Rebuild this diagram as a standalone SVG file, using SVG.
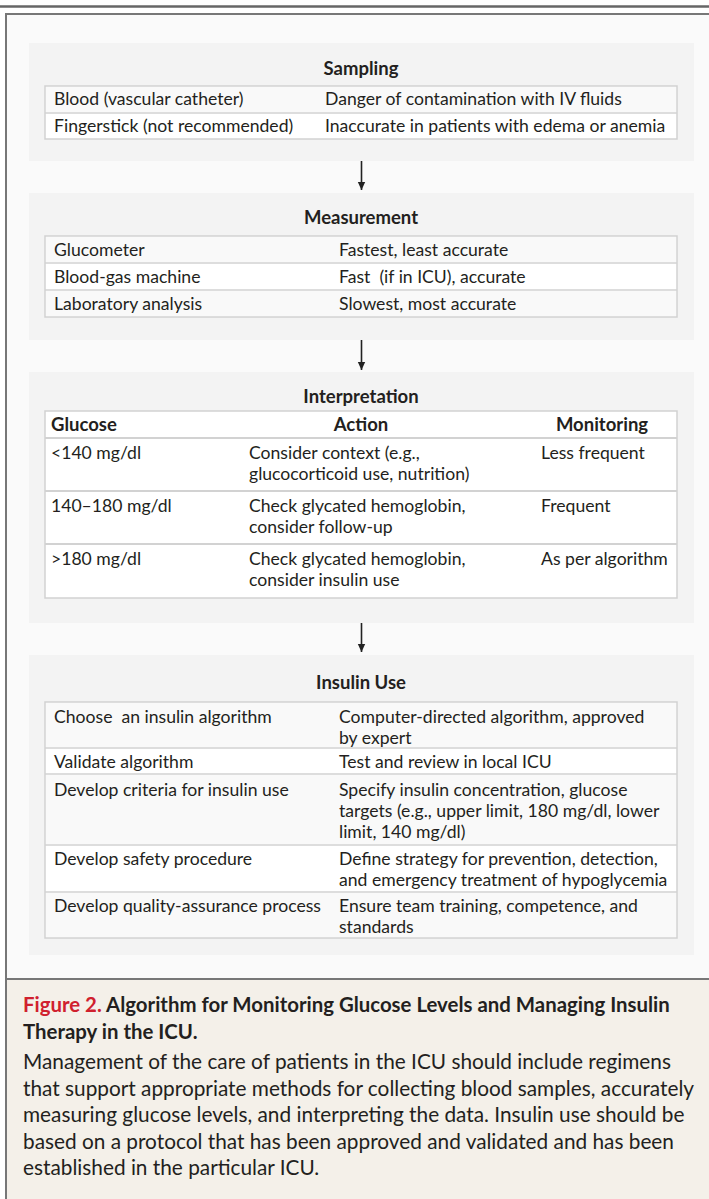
<svg xmlns="http://www.w3.org/2000/svg" width="709" height="1199" viewBox="0 0 709 1199">
<defs>
<style>
text{font-family:Lato,"Liberation Sans",sans-serif;fill:#231f20}
.t{font-size:17.6px}
.h{font-size:18.5px;font-weight:bold}
.b{font-weight:bold}
.c{text-anchor:middle}
.panel{fill:#f3f3f3}
.tb{fill:#ffffff;stroke:#d2d2d2;stroke-width:1.5}
.alt{fill:#f9f9f9}
.cap{font-size:20.8px}
.capt{font-size:20.4px;font-weight:bold}
.conn{stroke:#222;stroke-width:1.6;fill:none}
</style>
<marker id="ah" viewBox="0 0 8 14" refX="8" refY="7" markerWidth="8" markerHeight="14" markerUnits="userSpaceOnUse" orient="auto">
<path d="M0,3.3 L8,7 L0,10.7 Z" fill="#222"/>
</marker>
</defs>
<rect x="0" y="0" width="709" height="1199" fill="#ffffff"/>
<line x1="0" y1="6.5" x2="709" y2="6.5" stroke="#666" stroke-width="2.5"/>
<rect x="6" y="14" width="710" height="965" fill="#fafafa" stroke="#777" stroke-width="2"/>
<rect x="7" y="980" width="702" height="219" fill="#f4f0e9"/>
<line x1="6" y1="979" x2="709" y2="979" stroke="#777" stroke-width="2"/>
<line x1="6" y1="14" x2="6" y2="1199" stroke="#777" stroke-width="2"/>

<g id="sampling">
<rect class="panel" x="29" y="43" width="665" height="118"/>
<text class="h c" x="361" y="75">Sampling</text>
<rect class="tb" x="45" y="86" width="632" height="53"/>
<rect class="alt" x="46" y="87" width="630" height="25"/>
<line x1="45" y1="113" x2="677" y2="113" stroke="#d2d2d2" stroke-width="1.5"/>
<text class="t" x="54" y="105">Blood (vascular catheter)</text>
<text class="t" x="325" y="105">Danger of contamination with IV fluids</text>
<text class="t" x="54" y="132">Fingerstick (not recommended)</text>
<text class="t" x="325" y="132">Inaccurate in patients with edema or anemia</text>
</g>

<g id="measurement">
<rect class="panel" x="29" y="193" width="665" height="147"/>
<text class="h c" x="361" y="224">Measurement</text>
<rect class="tb" x="45" y="236" width="632" height="81"/>
<rect class="alt" x="46" y="237" width="630" height="25"/>
<rect class="alt" x="46" y="291" width="630" height="25"/>
<line x1="45" y1="263" x2="677" y2="263" stroke="#d2d2d2" stroke-width="1.5"/>
<line x1="45" y1="290" x2="677" y2="290" stroke="#d2d2d2" stroke-width="1.5"/>
<text class="t" x="54" y="256">Glucometer</text>
<text class="t" x="339" y="256">Fastest, least accurate</text>
<text class="t" x="54" y="283">Blood-gas machine</text>
<text class="t" x="339" y="283" xml:space="preserve">Fast  (if in ICU), accurate</text>
<text class="t" x="54" y="310">Laboratory analysis</text>
<text class="t" x="339" y="310">Slowest, most accurate</text>
</g>

<g id="interpretation">
<rect class="panel" x="29" y="372" width="665" height="251"/>
<text class="h c" x="361" y="403">Interpretation</text>
<rect class="tb" x="45" y="411" width="632" height="187"/>
<line x1="45" y1="438" x2="677" y2="438" stroke="#d2d2d2" stroke-width="2"/>
<line x1="45" y1="491" x2="677" y2="491" stroke="#d2d2d2" stroke-width="2"/>
<line x1="45" y1="544" x2="677" y2="544" stroke="#d2d2d2" stroke-width="2"/>
<text class="h" x="51" y="431">Glucose</text>
<text class="h c" x="361" y="431">Action</text>
<text class="h c" x="602" y="431">Monitoring</text>
<text class="t" x="51" y="459">&lt;140 mg/dl</text>
<text class="t" x="249" y="459">Consider context (e.g.,</text>
<text class="t" x="249" y="480">glucocorticoid use, nutrition)</text>
<text class="t" x="541" y="459">Less frequent</text>
<text class="t" x="51" y="512">140–180 mg/dl</text>
<text class="t" x="249" y="512">Check glycated hemoglobin,</text>
<text class="t" x="249" y="533">consider follow-up</text>
<text class="t" x="541" y="512">Frequent</text>
<text class="t" x="51" y="565">&gt;180 mg/dl</text>
<text class="t" x="249" y="565">Check glycated hemoglobin,</text>
<text class="t" x="249" y="586">consider insulin use</text>
<text class="t" x="541" y="565">As per algorithm</text>
</g>

<g id="insulin-use">
<rect class="panel" x="29" y="655" width="665" height="300"/>
<text class="h c" x="361" y="689">Insulin Use</text>
<rect class="tb" x="45" y="702" width="632" height="236"/>
<rect class="alt" x="46" y="703" width="630" height="44"/>
<rect class="alt" x="46" y="775" width="630" height="69"/>
<rect class="alt" x="46" y="893" width="630" height="44"/>
<line x1="45" y1="748" x2="677" y2="748" stroke="#d2d2d2" stroke-width="1.5"/>
<line x1="45" y1="774" x2="677" y2="774" stroke="#d2d2d2" stroke-width="1.5"/>
<line x1="45" y1="845" x2="677" y2="845" stroke="#d2d2d2" stroke-width="1.5"/>
<line x1="45" y1="892" x2="677" y2="892" stroke="#d2d2d2" stroke-width="1.5"/>
<text class="t" x="54" y="723" xml:space="preserve">Choose  an insulin algorithm</text>
<text class="t" x="339" y="723">Computer-directed algorithm, approved</text>
<text class="t" x="339" y="744">by expert</text>
<text class="t" x="54" y="768">Validate algorithm</text>
<text class="t" x="339" y="768">Test and review in local ICU</text>
<text class="t" x="54" y="796">Develop criteria for insulin use</text>
<text class="t" x="339" y="796">Specify insulin concentration, glucose</text>
<text class="t" x="339" y="817">targets (e.g., upper limit, 180 mg/dl, lower</text>
<text class="t" x="339" y="838">limit, 140 mg/dl)</text>
<text class="t" x="54" y="865">Develop safety procedure</text>
<text class="t" x="339" y="865">Define strategy for prevention, detection,</text>
<text class="t" x="339" y="886">and emergency treatment of hypoglycemia</text>
<text class="t" x="54" y="912">Develop quality-assurance process</text>
<text class="t" x="339" y="912">Ensure team training, competence, and</text>
<text class="t" x="339" y="933">standards</text>
</g>

<g id="connectors">
<line class="conn" x1="361.5" y1="161" x2="361.5" y2="190" marker-end="url(#ah)"/>
<line class="conn" x1="361.5" y1="340" x2="361.5" y2="370" marker-end="url(#ah)"/>
<line class="conn" x1="361.5" y1="623" x2="361.5" y2="652" marker-end="url(#ah)"/>
</g>

<g id="caption">
<text class="capt" x="23" y="1012"><tspan fill="#d0202e">Figure 2.</tspan> Algorithm for Monitoring Glucose Levels and Managing Insulin</text>
<text class="capt" x="23" y="1039">Therapy in the ICU.</text>
<text class="cap" x="23" y="1069">Management of the care of patients in the ICU should include regimens</text>
<text class="cap" x="23" y="1096">that support appropriate methods for collecting blood samples, accurately</text>
<text class="cap" x="23" y="1122">measuring glucose levels, and interpreting the data. Insulin use should be</text>
<text class="cap" x="23" y="1149">based on a protocol that has been approved and validated and has been</text>
<text class="cap" x="23" y="1175">established in the particular ICU.</text>
</g>
</svg>
